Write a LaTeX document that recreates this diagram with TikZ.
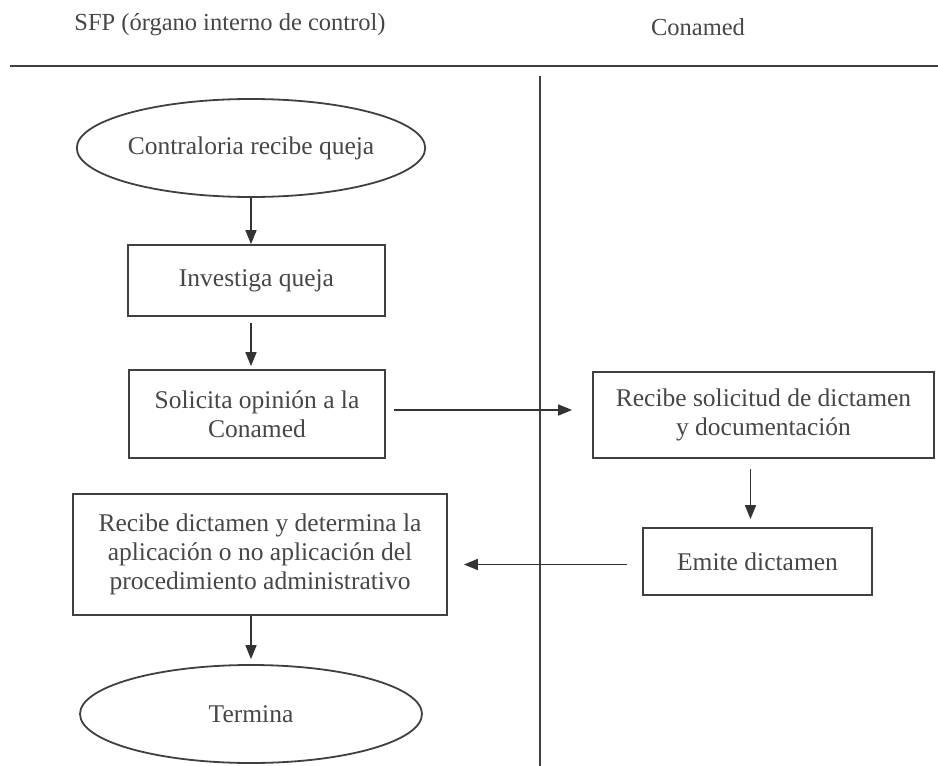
\documentclass[tikz,border=0pt]{standalone}
\usepackage{fontspec}
\setmainfont{Liberation Serif}
\usetikzlibrary{shapes.geometric,arrows.meta}
\begin{document}
\begin{tikzpicture}[x=1pt,y=-1pt,
  txt/.style={text=black!72,font=\fontsize{25.5}{29}\selectfont,align=center},
  boxnode/.style={txt,draw=black!75,line width=1.8pt,inner sep=0pt},
  ovalnode/.style={txt,draw=black!75,line width=1.8pt,ellipse,inner sep=0pt},
  arr/.style={draw=black!80,line width=1.7pt,-{Triangle[length=14pt,width=11pt]}},
  sepline/.style={draw=black!75,line width=2pt}]
\useasboundingbox (0,0) rectangle (938,766);
\fill[white] (0,0) rectangle (938,766);
% headers
\node[txt,font=\fontsize{24.5}{28}\selectfont] (h1) at (230,25) {SFP (órgano interno de control)};
\node[txt,font=\fontsize{24.5}{28}\selectfont] (h2) at (698,27) {Conamed};
\coordinate (hl) at (10,66);
\coordinate (hr) at (938,66);
\draw[sepline] (hl) -- (hr);
\coordinate (vt) at (540,76);
\coordinate (vb) at (540,766);
\draw[sepline,line width=1.5pt] (vt) -- (vb);
% nodes
\node[ovalnode,minimum width=340pt,minimum height=98pt] (e1) at (251,148) {Contraloria recibe queja};
\node[boxnode,minimum width=257pt,minimum height=71pt] (b2) at (256.5,280.5) {Investiga queja};
\node[boxnode,minimum width=256pt,minimum height=88pt] (b3) at (257,414) {Solicita opinión a la\\Conamed};
\node[boxnode,minimum width=341pt,minimum height=86pt] (b4) at (763.5,415) {Recibe solicitud de dictamen\\y documentación};
\node[boxnode,minimum width=229pt,minimum height=67pt] (b5) at (757.5,561.5) {Emite dictamen};
\node[boxnode,minimum width=374pt,minimum height=121pt] (b6) at (260,554.5) {Recibe dictamen y determina la\\aplicación o no aplicación del\\procedimiento administrativo};
\node[ovalnode,minimum width=342pt,minimum height=98pt] (e2) at (251,714) {Termina};
% connectors
\draw[arr] (e1.south) -- (e1.south |- b2.north);
\draw[arr,shorten <=6pt,shorten >=3pt] (b2.south -| e1.south) -- (b3.north -| e1.south);
\draw[arr,shorten <=8pt,shorten >=20pt] ([yshift=4pt]b3.east) -- ([yshift=4pt]b3.east -| b4.west);
\draw[arr,shorten <=10pt,shorten >=8pt] ([xshift=-7pt]b4.south -| b5.north) -- ([xshift=-7pt]b5.north);
\draw[arr,shorten <=15pt,shorten >=16pt] ([yshift=-3pt]b5.west) -- ([yshift=-3pt]b5.west -| b6.east);
\draw[arr,shorten >=5pt] (b6.south -| e2.north) -- (e2.north);
\end{tikzpicture}
\end{document}
